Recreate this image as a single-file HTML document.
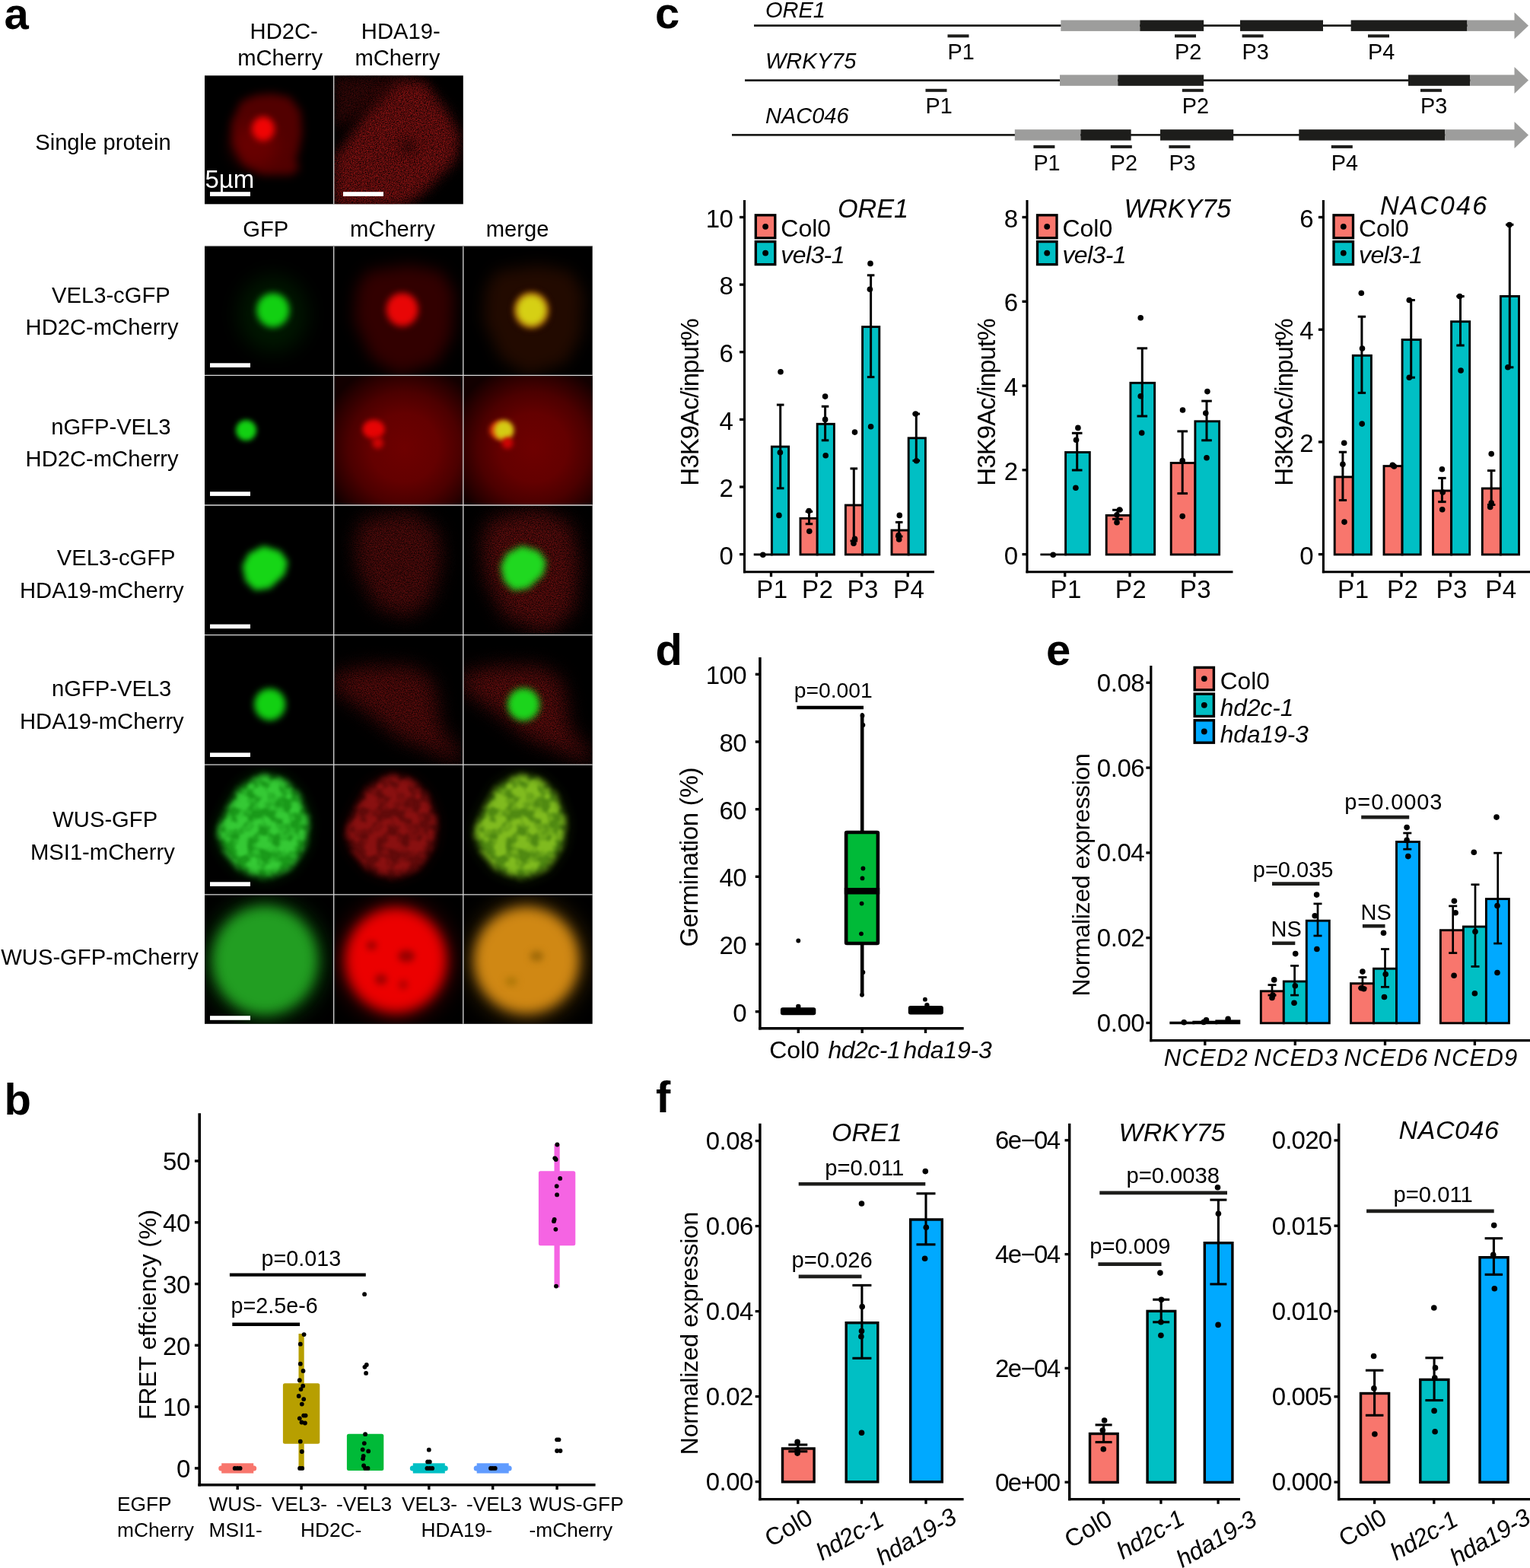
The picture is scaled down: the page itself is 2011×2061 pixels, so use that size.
<!DOCTYPE html>
<html><head><meta charset="utf-8"><title>Figure</title>
<style>
html,body{margin:0;padding:0;background:#fff;}
body{width:2011px;height:2061px;overflow:hidden;}
svg{display:block;font-family:'Liberation Sans', sans-serif;}
</style></head><body>
<svg width="2011" height="2061" viewBox="0 0 2011 2061">
<defs>
<filter id="b2" color-interpolation-filters="sRGB" x="-60%" y="-60%" width="220%" height="220%"><feGaussianBlur stdDeviation="2"/></filter>
<filter id="b3" color-interpolation-filters="sRGB" x="-60%" y="-60%" width="220%" height="220%"><feGaussianBlur stdDeviation="3"/></filter>
<filter id="b4" color-interpolation-filters="sRGB" x="-60%" y="-60%" width="220%" height="220%"><feGaussianBlur stdDeviation="4"/></filter>
<filter id="b5" color-interpolation-filters="sRGB" x="-60%" y="-60%" width="220%" height="220%"><feGaussianBlur stdDeviation="5"/></filter>
<filter id="b6" color-interpolation-filters="sRGB" x="-60%" y="-60%" width="220%" height="220%"><feGaussianBlur stdDeviation="6"/></filter>
<filter id="b8" color-interpolation-filters="sRGB" x="-60%" y="-60%" width="220%" height="220%"><feGaussianBlur stdDeviation="8"/></filter>
<filter id="b10" color-interpolation-filters="sRGB" x="-60%" y="-60%" width="220%" height="220%"><feGaussianBlur stdDeviation="10"/></filter>
<filter id="b14" color-interpolation-filters="sRGB" x="-60%" y="-60%" width="220%" height="220%"><feGaussianBlur stdDeviation="14"/></filter>
<filter id="b20" color-interpolation-filters="sRGB" x="-60%" y="-60%" width="220%" height="220%"><feGaussianBlur stdDeviation="20"/></filter>
<filter id="nz" color-interpolation-filters="sRGB" x="-40%" y="-40%" width="180%" height="180%"><feGaussianBlur in="SourceGraphic" stdDeviation="8" result="b"/><feTurbulence type="fractalNoise" baseFrequency="0.7" numOctaves="2" seed="4" result="t"/><feColorMatrix in="t" type="matrix" values="0 0 0 0 1 0 0 0 0 1 0 0 0 0 1 1.7 0 0 0 -0.25" result="n"/><feComposite in="b" in2="n" operator="in"/></filter>
<filter id="nz3" color-interpolation-filters="sRGB" x="-40%" y="-40%" width="180%" height="180%"><feGaussianBlur in="SourceGraphic" stdDeviation="12" result="b"/><feTurbulence type="fractalNoise" baseFrequency="0.7" numOctaves="2" seed="7" result="t"/><feColorMatrix in="t" type="matrix" values="0 0 0 0 1 0 0 0 0 1 0 0 0 0 1 1.6 0 0 0 -0.2" result="n"/><feComposite in="b" in2="n" operator="in"/></filter>
<filter id="mot" color-interpolation-filters="sRGB" x="-40%" y="-40%" width="180%" height="180%"><feGaussianBlur in="SourceGraphic" stdDeviation="5" result="b"/><feTurbulence type="fractalNoise" baseFrequency="0.07" numOctaves="2" seed="9" result="t"/><feColorMatrix in="t" type="matrix" values="0 0 0 0 1 0 0 0 0 1 0 0 0 0 1 3.2 0 0 0 -1.05" result="n"/><feComposite in="b" in2="n" operator="in" result="c"/><feGaussianBlur in="c" stdDeviation="1.6"/></filter>
<filter id="mot2" color-interpolation-filters="sRGB" x="-40%" y="-40%" width="180%" height="180%"><feGaussianBlur in="SourceGraphic" stdDeviation="5" result="b"/><feTurbulence type="fractalNoise" baseFrequency="0.085" numOctaves="2" seed="9" result="t"/><feColorMatrix in="t" type="matrix" values="0 0 0 0 1 0 0 0 0 1 0 0 0 0 1 3.0 0 0 0 -0.95" result="n"/><feComposite in="b" in2="n" operator="in"/></filter>
<clipPath id="c1"><rect x="269" y="99.3" width="169.7" height="169"/></clipPath>
<clipPath id="c2"><rect x="438.7" y="99.3" width="170.1" height="169"/></clipPath>
<clipPath id="c3"><rect x="269" y="323.4" width="169.7" height="170"/></clipPath>
<clipPath id="c4"><rect x="438.7" y="323.4" width="170.1" height="170"/></clipPath>
<clipPath id="c5"><rect x="608.8" y="323.4" width="169.9" height="170"/></clipPath>
<radialGradient id="g1" gradientUnits="userSpaceOnUse" cx="92.6" cy="94.9" r="112"><stop offset="0" stop-color="#6e0000"/><stop offset="0.4" stop-color="#640000"/><stop offset="0.65" stop-color="#4c0000"/><stop offset="0.85" stop-color="#2c0000"/><stop offset="1" stop-color="#120000"/></radialGradient>
<clipPath id="c6"><rect x="269" y="493.4" width="169.7" height="170.6"/></clipPath>
<clipPath id="c7"><rect x="438.7" y="493.4" width="170.1" height="170.6"/></clipPath>
<radialGradient id="g2" gradientUnits="userSpaceOnUse" cx="92.3" cy="94.9" r="112"><stop offset="0" stop-color="#6e0000"/><stop offset="0.4" stop-color="#640000"/><stop offset="0.65" stop-color="#4c0000"/><stop offset="0.85" stop-color="#2c0000"/><stop offset="1" stop-color="#120000"/></radialGradient>
<clipPath id="c8"><rect x="608.8" y="493.4" width="169.9" height="170.6"/></clipPath>
<clipPath id="c9"><rect x="269" y="664" width="169.7" height="170.6"/></clipPath>
<clipPath id="c10"><rect x="438.7" y="664" width="170.1" height="170.6"/></clipPath>
<clipPath id="c11"><rect x="608.8" y="664" width="169.9" height="170.6"/></clipPath>
<clipPath id="c12"><rect x="269" y="834.6" width="169.7" height="170.6"/></clipPath>
<clipPath id="c13"><rect x="438.7" y="834.6" width="170.1" height="170.6"/></clipPath>
<clipPath id="c14"><rect x="608.8" y="834.6" width="169.9" height="170.6"/></clipPath>
<clipPath id="c15"><rect x="269" y="1005.2" width="169.7" height="170.6"/></clipPath>
<clipPath id="c16"><rect x="438.7" y="1005.2" width="170.1" height="170.6"/></clipPath>
<clipPath id="c17"><rect x="608.8" y="1005.2" width="169.9" height="170.6"/></clipPath>
<clipPath id="c18"><rect x="269" y="1175.8" width="169.7" height="170"/></clipPath>
<clipPath id="c19"><rect x="438.7" y="1175.8" width="170.1" height="170"/></clipPath>
<clipPath id="c20"><rect x="608.8" y="1175.8" width="169.9" height="170"/></clipPath>
</defs>
<rect width="2011" height="2061" fill="#fff"/>
<text x="5.5" y="37.6" font-size="58" font-weight="bold">a</text>
<text x="328.6" y="51.3" font-size="29.2">HD2C-</text>
<text x="312.2" y="86.1" font-size="29.2">mCherry</text>
<text x="474.8" y="51.3" font-size="29.2">HDA19-</text>
<text x="466.4" y="86.1" font-size="29.2">mCherry</text>
<text x="46.2" y="196.6" font-size="29.2">Single protein</text>
<text x="319.3" y="311" font-size="29.2">GFP</text>
<text x="460" y="311" font-size="29.2">mCherry</text>
<text x="638.7" y="311" font-size="29.2">merge</text>
<text x="68" y="398" font-size="29.2">VEL3-cGFP</text>
<text x="33.6" y="440.3" font-size="29.2">HD2C-mCherry</text>
<text x="67.2" y="570.6" font-size="29.2">nGFP-VEL3</text>
<text x="33.6" y="613.4" font-size="29.2">HD2C-mCherry</text>
<text x="74.8" y="743.3" font-size="29.2">VEL3-cGFP</text>
<text x="26" y="785.7" font-size="29.2">HDA19-mCherry</text>
<text x="68" y="914.7" font-size="29.2">nGFP-VEL3</text>
<text x="26" y="958" font-size="29.2">HDA19-mCherry</text>
<text x="69.3" y="1087" font-size="29.2">WUS-GFP</text>
<text x="40" y="1130.3" font-size="29.2">MSI1-mCherry</text>
<text x="1.3" y="1267.6" font-size="29.2">WUS-GFP-mCherry</text>
<rect x="269" y="99.3" width="339.8" height="169" fill="#000"/>
<rect x="269" y="323.4" width="509.7" height="1022.4" fill="#000"/>
<g clip-path="url(#c1)"><g transform="translate(269 99.3)"><polygon points="47.7,34.2 66.6,25.7 89.3,23.8 112,28.5 126.2,47.4 128.1,75.8 123.4,100.4 119.6,109.8 124.3,123.1 113.9,130.6 76.1,130.6 51.5,117.4 36.4,89 34.5,62.5" fill="#520000" filter="url(#b6)"/><ellipse cx="66" cy="92" rx="30" ry="28" fill="#7a0000" filter="url(#b10)" opacity="0.55"/><ellipse cx="77" cy="70" rx="15" ry="16" fill="#f00404" filter="url(#b4)"/></g></g>
<g clip-path="url(#c2)"><g transform="translate(438.7 99.3)"><polygon points="1.3,0.7 112.9,0.7 135.2,27.5 81.7,18.6 1.3,72.1" fill="#3c0808" filter="url(#nz)"/><polygon points="0,110 40,52 85,10 120,12 148,45 166,80 160,112 116,156 89,172 0,172" fill="#8c1212" filter="url(#nz)"/><ellipse cx="98" cy="94" rx="12" ry="11" fill="#000" filter="url(#b6)" opacity="0.35"/></g></g>
<g clip-path="url(#c3)"><g transform="translate(269 323.4)"><ellipse cx="89.8" cy="89.3" rx="45" ry="50" fill="#002800" filter="url(#b14)" opacity="0.6"/><ellipse cx="89.8" cy="84.3" rx="21.5" ry="22.5" fill="#12d012" filter="url(#b4)"/></g></g>
<g clip-path="url(#c4)"><g transform="translate(438.7 323.4)"><polygon points="44,33.4 99.7,25 141.5,33.4 158.2,61.2 155.4,116.9 135.9,153.1 85.8,169.8 49.6,147.5 27.3,97.4 30.1,55.6" fill="#320000" filter="url(#b10)"/><ellipse cx="90" cy="83.5" rx="21" ry="22" fill="#e80606" filter="url(#b4)"/></g></g>
<g clip-path="url(#c5)"><g transform="translate(608.8 323.4)"><polygon points="43.7,33.4 99.4,25 141.2,33.4 157.9,61.2 155.1,116.9 135.6,153.1 85.5,169.8 49.3,147.5 27,97.4 29.8,55.6" fill="#220a00" filter="url(#b10)"/><ellipse cx="89.7" cy="84.3" rx="23" ry="24" fill="#8c3c04" filter="url(#b4)"/><ellipse cx="89.7" cy="84.3" rx="20" ry="21" fill="#d6d014" filter="url(#b4)"/></g></g>
<g clip-path="url(#c6)"><g transform="translate(269 493.4)"><ellipse cx="54.5" cy="72.2" rx="13.5" ry="13.5" fill="#12d012" filter="url(#b3)"/></g></g>
<g clip-path="url(#c7)"><g transform="translate(438.7 493.4)"><rect x="0" y="0" width="171" height="171" fill="url(#g1)"/><ellipse cx="52.4" cy="70.8" rx="14.5" ry="12.5" fill="#e60404" filter="url(#b3)"/><ellipse cx="57.9" cy="88.9" rx="7.5" ry="7.5" fill="#cc0404" filter="url(#b3)"/></g></g>
<g clip-path="url(#c8)"><g transform="translate(608.8 493.4)"><rect x="0" y="0" width="171" height="171" fill="url(#g2)"/><ellipse cx="48.5" cy="72.2" rx="14" ry="12" fill="#d83006" filter="url(#b3)"/><ellipse cx="53.5" cy="72.2" rx="13" ry="13" fill="#d4cc14" filter="url(#b3)"/><ellipse cx="58.2" cy="88.9" rx="7.5" ry="7.5" fill="#d00404" filter="url(#b3)"/></g></g>
<g clip-path="url(#c9)"><g transform="translate(269 664)"><polygon points="77.3,53.6 99.6,60.6 109.3,74.5 105.1,91.2 85.7,109.3 66.2,112.1 53.6,99.6 49.5,80.1 57.8,63.4" fill="#16d616" filter="url(#b4)"/></g></g>
<g clip-path="url(#c10)"><g transform="translate(438.7 664)"><polygon points="38.4,18.8 99.7,7.7 135.9,32.8 141.5,74.5 127.5,124.6 99.7,146.9 57.9,135.8 32.9,88.4 27.3,46.7" fill="#5c0c0c" filter="url(#nz3)"/></g></g>
<g clip-path="url(#c11)"><g transform="translate(608.8 664)"><polygon points="35.4,18.8 96.6,4.9 141.2,24.4 152.3,74.5 146.7,135.8 110.6,169.2 54.9,146.9 29.8,96.8 24.3,46.7" fill="#6a0e0e" filter="url(#nz3)"/><polygon points="77.1,53.6 99.4,60.6 109.2,74.5 105,91.2 85.5,109.3 66,112.1 53.5,99.6 49.3,80.1 57.7,63.4" fill="#20d820" filter="url(#b4)"/></g></g>
<g clip-path="url(#c12)"><g transform="translate(269 834.6)"><ellipse cx="85.7" cy="91.3" rx="20.5" ry="21" fill="#12d012" filter="url(#b4)"/></g></g>
<g clip-path="url(#c13)"><g transform="translate(438.7 834.6)"><polygon points="-0.5,51.5 44,41.7 99.7,41.7 127.5,57 135.9,84.9 138.7,121.1 169.3,160 169.3,169.8 127.5,151.7 85.8,135 44,101.6 -0.5,71" fill="#640c0c" filter="url(#nz3)"/></g></g>
<g clip-path="url(#c14)"><g transform="translate(608.8 834.6)"><polygon points="-1.4,51.5 43.2,41.7 98.9,41.7 126.7,57 135.1,84.9 137.8,121.1 168.5,160 168.5,169.8 126.7,151.7 84.9,135 43.2,101.6 -1.4,71" fill="#6c0e0e" filter="url(#nz3)"/><ellipse cx="79.4" cy="91.3" rx="21" ry="21.5" fill="#1cd41c" filter="url(#b4)"/></g></g>
<g clip-path="url(#c15)"><g transform="translate(269 1005.2)"><polygon points="74.5,13.5 102.4,19 123.2,39.9 135.8,73.3 131.6,106.7 112.1,136 80.1,148.5 46.7,137.4 25.8,112.3 17.4,87.2 30,59.4 46.7,30.2" fill="#0a5a0a" filter="url(#b10)" opacity="0.8"/><polygon points="74.5,13.5 102.4,19 123.2,39.9 135.8,73.3 131.6,106.7 112.1,136 80.1,148.5 46.7,137.4 25.8,112.3 17.4,87.2 30,59.4 46.7,30.2" fill="#1a9a1a" filter="url(#b5)"/><polygon points="74.5,13.5 102.4,19 123.2,39.9 135.8,73.3 131.6,106.7 112.1,136 80.1,148.5 46.7,137.4 25.8,112.3 17.4,87.2 30,59.4 46.7,30.2" fill="#50f850" filter="url(#mot)" opacity="0.5"/></g></g>
<g clip-path="url(#c16)"><g transform="translate(438.7 1005.2)"><polygon points="73.2,13.5 101.1,19 122,39.9 134.5,73.3 130.3,106.7 110.8,136 78.8,148.5 45.4,137.4 24.5,112.3 16.2,87.2 28.7,59.4 45.4,30.2" fill="#3a0404" filter="url(#b10)" opacity="0.8"/><polygon points="73.2,13.5 101.1,19 122,39.9 134.5,73.3 130.3,106.7 110.8,136 78.8,148.5 45.4,137.4 24.5,112.3 16.2,87.2 28.7,59.4 45.4,30.2" fill="#620a0a" filter="url(#b5)"/><polygon points="73.2,13.5 101.1,19 122,39.9 134.5,73.3 130.3,106.7 110.8,136 78.8,148.5 45.4,137.4 24.5,112.3 16.2,87.2 28.7,59.4 45.4,30.2" fill="#b01616" filter="url(#mot)" opacity="0.5"/></g></g>
<g clip-path="url(#c17)"><g transform="translate(608.8 1005.2)"><polygon points="72.4,13.5 100.3,19 121.1,39.9 133.7,73.3 129.5,106.7 110,136 78,148.5 44.6,137.4 23.7,112.3 15.3,87.2 27.9,59.4 44.6,30.2" fill="#2a4a06" filter="url(#b10)" opacity="0.8"/><polygon points="72.4,13.5 100.3,19 121.1,39.9 133.7,73.3 129.5,106.7 110,136 78,148.5 44.6,137.4 23.7,112.3 15.3,87.2 27.9,59.4 44.6,30.2" fill="#508a12" filter="url(#b5)"/><polygon points="72.4,13.5 100.3,19 121.1,39.9 133.7,73.3 129.5,106.7 110,136 78,148.5 44.6,137.4 23.7,112.3 15.3,87.2 27.9,59.4 44.6,30.2" fill="#b0ec2c" filter="url(#mot)" opacity="0.5"/></g></g>
<g clip-path="url(#c18)"><g transform="translate(269 1175.8)"><ellipse cx="80.1" cy="86.5" rx="76" ry="78" fill="#0a4a0a" filter="url(#b14)"/><ellipse cx="79.1" cy="86.5" rx="67.5" ry="69.5" fill="#229e22" filter="url(#b8)"/></g></g>
<g clip-path="url(#c19)"><g transform="translate(438.7 1175.8)"><ellipse cx="81.6" cy="86.5" rx="74" ry="76" fill="#500000" filter="url(#b14)"/><ellipse cx="81.6" cy="86.5" rx="65.5" ry="68" fill="#ec0000" filter="url(#b8)"/><ellipse cx="49.6" cy="67" rx="7" ry="6" fill="#a00000" filter="url(#b4)"/><ellipse cx="95.5" cy="80.9" rx="11" ry="8" fill="#980000" filter="url(#b4)"/><ellipse cx="62.1" cy="111.5" rx="8" ry="7" fill="#a00000" filter="url(#b4)"/><ellipse cx="91.3" cy="118.5" rx="6" ry="6" fill="#b00000" filter="url(#b4)"/></g></g>
<g clip-path="url(#c20)"><g transform="translate(608.8 1175.8)"><ellipse cx="84.1" cy="86.5" rx="76" ry="78" fill="#4a3004" filter="url(#b14)"/><ellipse cx="83.1" cy="86.5" rx="68" ry="69" fill="#d08814" filter="url(#b8)"/><ellipse cx="96.6" cy="80.9" rx="9" ry="7" fill="#a06a08" filter="url(#b4)"/><ellipse cx="63.2" cy="114.3" rx="8" ry="6" fill="#b07808" filter="url(#b4)"/></g></g>
<line x1="438.7" y1="99.3" x2="438.7" y2="268.3" stroke="#d9d9d9" stroke-width="1.3"/>
<line x1="438.7" y1="323.4" x2="438.7" y2="1345.8" stroke="#d9d9d9" stroke-width="1.3"/>
<line x1="608.8" y1="323.4" x2="608.8" y2="1345.8" stroke="#d9d9d9" stroke-width="1.3"/>
<line x1="269" y1="493.4" x2="778.7" y2="493.4" stroke="#d9d9d9" stroke-width="1.3"/>
<line x1="269" y1="664" x2="778.7" y2="664" stroke="#d9d9d9" stroke-width="1.3"/>
<line x1="269" y1="834.6" x2="778.7" y2="834.6" stroke="#d9d9d9" stroke-width="1.3"/>
<line x1="269" y1="1005.2" x2="778.7" y2="1005.2" stroke="#d9d9d9" stroke-width="1.3"/>
<line x1="269" y1="1175.8" x2="778.7" y2="1175.8" stroke="#d9d9d9" stroke-width="1.3"/>
<line x1="269" y1="323.4" x2="778.7" y2="323.4" stroke="#888" stroke-width="1"/>
<rect x="276" y="252.2" width="53" height="5.7" fill="#fff"/>
<rect x="451" y="252.2" width="53" height="5.7" fill="#fff"/>
<text x="269.4" y="247" font-size="33" fill="#fff">5µm</text>
<rect x="276" y="477.3" width="53" height="5.6" fill="#fff"/>
<rect x="276" y="646.3" width="53" height="5.6" fill="#fff"/>
<rect x="276" y="820.6" width="53" height="5.6" fill="#fff"/>
<rect x="276" y="989.4" width="53" height="5.6" fill="#fff"/>
<rect x="276" y="1159.3" width="53" height="5.6" fill="#fff"/>
<rect x="276" y="1335.2" width="53" height="5.6" fill="#fff"/>
<text x="861" y="37.3" font-size="58" font-weight="bold">c</text>
<line x1="991" y1="33.7" x2="1995" y2="33.7" stroke="#1d1d1b" stroke-width="2.7"/>
<rect x="1394.3" y="26.5" width="104" height="14.4" fill="#9d9d9c"/>
<rect x="1498.3" y="26.5" width="83.8" height="14.4" fill="#1d1d1b"/>
<rect x="1630" y="26.5" width="109" height="14.4" fill="#1d1d1b"/>
<rect x="1775.6" y="26.5" width="152.9" height="14.4" fill="#1d1d1b"/>
<rect x="1928.5" y="26.5" width="62.5" height="14.4" fill="#9d9d9c"/>
<polygon points="1990.5,16.2 2009,33.7 1990.5,51.2" fill="#9d9d9c"/>
<text x="1006" y="22.7" font-size="29" font-style="italic">ORE1</text>
<rect x="1245.5" y="45.3" width="28" height="4" fill="#1d1d1b"/>
<text x="1245.5" y="78" font-size="28.8">P1</text>
<rect x="1544" y="45.3" width="28" height="4" fill="#1d1d1b"/>
<text x="1544" y="78" font-size="28.8">P2</text>
<rect x="1632.6" y="45.3" width="28" height="4" fill="#1d1d1b"/>
<text x="1632.6" y="78" font-size="28.8">P3</text>
<rect x="1798" y="45.3" width="28" height="4" fill="#1d1d1b"/>
<text x="1798" y="78" font-size="28.8">P4</text>
<line x1="979" y1="105.6" x2="1995" y2="105.6" stroke="#1d1d1b" stroke-width="2.7"/>
<rect x="1393" y="98.4" width="76.3" height="14.4" fill="#9d9d9c"/>
<rect x="1469.3" y="98.4" width="112.8" height="14.4" fill="#1d1d1b"/>
<rect x="1851" y="98.4" width="81.3" height="14.4" fill="#1d1d1b"/>
<rect x="1932.3" y="98.4" width="58.7" height="14.4" fill="#9d9d9c"/>
<polygon points="1990.5,88.1 2009,105.6 1990.5,123.1" fill="#9d9d9c"/>
<text x="1006" y="89.8" font-size="29" font-style="italic">WRKY75</text>
<rect x="1216.5" y="116.8" width="28" height="4" fill="#1d1d1b"/>
<text x="1216.5" y="149.4" font-size="28.8">P1</text>
<rect x="1553.8" y="116.8" width="28" height="4" fill="#1d1d1b"/>
<text x="1553.8" y="149.4" font-size="28.8">P2</text>
<rect x="1867" y="116.8" width="28" height="4" fill="#1d1d1b"/>
<text x="1867" y="149.4" font-size="28.8">P3</text>
<line x1="962" y1="177.4" x2="1995" y2="177.4" stroke="#1d1d1b" stroke-width="2.7"/>
<rect x="1333.8" y="170.2" width="86.6" height="14.4" fill="#9d9d9c"/>
<rect x="1420.4" y="170.2" width="66.2" height="14.4" fill="#1d1d1b"/>
<rect x="1525" y="170.2" width="96.2" height="14.4" fill="#1d1d1b"/>
<rect x="1707.3" y="170.2" width="191.9" height="14.4" fill="#1d1d1b"/>
<rect x="1899.2" y="170.2" width="91.8" height="14.4" fill="#9d9d9c"/>
<polygon points="1990.5,159.9 2009,177.4 1990.5,194.9" fill="#9d9d9c"/>
<text x="1006" y="162.3" font-size="29" font-style="italic">NAC046</text>
<rect x="1358.4" y="190.9" width="28" height="4" fill="#1d1d1b"/>
<text x="1358.4" y="223.8" font-size="28.8">P1</text>
<rect x="1459.8" y="190.9" width="28" height="4" fill="#1d1d1b"/>
<text x="1459.8" y="223.8" font-size="28.8">P2</text>
<rect x="1536.4" y="190.9" width="28" height="4" fill="#1d1d1b"/>
<text x="1536.4" y="223.8" font-size="28.8">P3</text>
<rect x="1749.8" y="190.9" width="28" height="4" fill="#1d1d1b"/>
<text x="1749.8" y="223.8" font-size="28.8">P4</text>
<line x1="990.7" y1="728.9" x2="1015.8" y2="728.9" stroke="#000" stroke-width="2.9"/>
<rect x="1014.4" y="587.1" width="22.2" height="141.8" fill="#00BFC4" stroke="#000" stroke-width="2.9"/>
<rect x="1052" y="681.3" width="22.2" height="47.6" fill="#F8766D" stroke="#000" stroke-width="2.9"/>
<rect x="1074.2" y="557.3" width="22.2" height="171.6" fill="#00BFC4" stroke="#000" stroke-width="2.9"/>
<rect x="1111.4" y="664" width="22.2" height="64.9" fill="#F8766D" stroke="#000" stroke-width="2.9"/>
<rect x="1133.6" y="429.6" width="22.2" height="299.3" fill="#00BFC4" stroke="#000" stroke-width="2.9"/>
<rect x="1172" y="697" width="22.2" height="31.9" fill="#F8766D" stroke="#000" stroke-width="2.9"/>
<rect x="1194.2" y="575.8" width="22.2" height="153.1" fill="#00BFC4" stroke="#000" stroke-width="2.9"/>
<line x1="1025.7" y1="532.1" x2="1025.7" y2="641.8" stroke="#000" stroke-width="3"/>
<line x1="1020.9" y1="532.1" x2="1030.5" y2="532.1" stroke="#000" stroke-width="3"/>
<line x1="1020.9" y1="641.8" x2="1030.5" y2="641.8" stroke="#000" stroke-width="3"/>
<line x1="1063.5" y1="672.4" x2="1063.5" y2="688.7" stroke="#000" stroke-width="3"/>
<line x1="1058.7" y1="672.4" x2="1068.2" y2="672.4" stroke="#000" stroke-width="3"/>
<line x1="1058.7" y1="688.7" x2="1068.2" y2="688.7" stroke="#000" stroke-width="3"/>
<line x1="1084.6" y1="534.2" x2="1084.6" y2="578.8" stroke="#000" stroke-width="3"/>
<line x1="1079.8" y1="534.2" x2="1089.3" y2="534.2" stroke="#000" stroke-width="3"/>
<line x1="1079.8" y1="578.8" x2="1089.3" y2="578.8" stroke="#000" stroke-width="3"/>
<line x1="1122.3" y1="615.9" x2="1122.3" y2="711" stroke="#000" stroke-width="3"/>
<line x1="1117.5" y1="615.9" x2="1127.1" y2="615.9" stroke="#000" stroke-width="3"/>
<line x1="1117.5" y1="711" x2="1127.1" y2="711" stroke="#000" stroke-width="3"/>
<line x1="1144.6" y1="361.8" x2="1144.6" y2="495.6" stroke="#000" stroke-width="3"/>
<line x1="1139.8" y1="361.8" x2="1149.4" y2="361.8" stroke="#000" stroke-width="3"/>
<line x1="1139.8" y1="495.6" x2="1149.4" y2="495.6" stroke="#000" stroke-width="3"/>
<line x1="1181.7" y1="686.4" x2="1181.7" y2="705.1" stroke="#000" stroke-width="3"/>
<line x1="1177" y1="686.4" x2="1186.5" y2="686.4" stroke="#000" stroke-width="3"/>
<line x1="1177" y1="705.1" x2="1186.5" y2="705.1" stroke="#000" stroke-width="3"/>
<line x1="1204.3" y1="544" x2="1204.3" y2="605.5" stroke="#000" stroke-width="3"/>
<line x1="1199.5" y1="544" x2="1209.1" y2="544" stroke="#000" stroke-width="3"/>
<line x1="1199.5" y1="605.5" x2="1209.1" y2="605.5" stroke="#000" stroke-width="3"/>
<circle cx="1002.8" cy="729.2" r="3.8" fill="#000"/>
<circle cx="1026" cy="488.7" r="3.8" fill="#000"/>
<circle cx="1025.4" cy="594.8" r="3.8" fill="#000"/>
<circle cx="1023.9" cy="677.4" r="3.8" fill="#000"/>
<circle cx="1063.2" cy="671.5" r="3.8" fill="#000"/>
<circle cx="1063.8" cy="698.2" r="3.8" fill="#000"/>
<circle cx="1084.6" cy="521.1" r="3.8" fill="#000"/>
<circle cx="1084.6" cy="551.4" r="3.8" fill="#000"/>
<circle cx="1085.2" cy="598.7" r="3.8" fill="#000"/>
<circle cx="1123.5" cy="568.1" r="3.8" fill="#000"/>
<circle cx="1123.5" cy="708.4" r="3.8" fill="#000"/>
<circle cx="1122" cy="714.3" r="3.8" fill="#000"/>
<circle cx="1144" cy="346.4" r="3.8" fill="#000"/>
<circle cx="1143.4" cy="380.3" r="3.8" fill="#000"/>
<circle cx="1144.6" cy="560.7" r="3.8" fill="#000"/>
<circle cx="1182.3" cy="677.4" r="3.8" fill="#000"/>
<circle cx="1181.1" cy="703.6" r="3.8" fill="#000"/>
<circle cx="1181.7" cy="708.9" r="3.8" fill="#000"/>
<circle cx="1203.4" cy="544" r="3.8" fill="#000"/>
<circle cx="1204.6" cy="605.8" r="3.8" fill="#000"/>
<line x1="978.5" y1="263" x2="978.5" y2="753.2" stroke="#000" stroke-width="3.1"/>
<line x1="977" y1="751.7" x2="1228" y2="751.7" stroke="#000" stroke-width="3.1"/>
<line x1="972" y1="728.6" x2="978.5" y2="728.6" stroke="#000" stroke-width="3.3"/>
<text x="963.4" y="741.7" font-size="33" text-anchor="end" letter-spacing="-0.5">0</text>
<line x1="972" y1="640" x2="978.5" y2="640" stroke="#000" stroke-width="3.3"/>
<text x="963.4" y="653.1" font-size="33" text-anchor="end" letter-spacing="-0.5">2</text>
<line x1="972" y1="551.4" x2="978.5" y2="551.4" stroke="#000" stroke-width="3.3"/>
<text x="963.4" y="564.5" font-size="33" text-anchor="end" letter-spacing="-0.5">4</text>
<line x1="972" y1="462.7" x2="978.5" y2="462.7" stroke="#000" stroke-width="3.3"/>
<text x="963.4" y="475.8" font-size="33" text-anchor="end" letter-spacing="-0.5">6</text>
<line x1="972" y1="374.1" x2="978.5" y2="374.1" stroke="#000" stroke-width="3.3"/>
<text x="963.4" y="387.2" font-size="33" text-anchor="end" letter-spacing="-0.5">8</text>
<line x1="972" y1="285.5" x2="978.5" y2="285.5" stroke="#000" stroke-width="3.3"/>
<text x="963.4" y="298.6" font-size="33" text-anchor="end" letter-spacing="-0.5">10</text>
<line x1="1013.5" y1="751.7" x2="1013.5" y2="758.2" stroke="#000" stroke-width="3.3"/>
<line x1="1073.3" y1="751.7" x2="1073.3" y2="758.2" stroke="#000" stroke-width="3.3"/>
<line x1="1132.7" y1="751.7" x2="1132.7" y2="758.2" stroke="#000" stroke-width="3.3"/>
<line x1="1193.3" y1="751.7" x2="1193.3" y2="758.2" stroke="#000" stroke-width="3.3"/>
<text x="1015" y="786.3" font-size="33" text-anchor="middle" letter-spacing="0.6">P1</text>
<text x="1074.8" y="786.3" font-size="33" text-anchor="middle" letter-spacing="0.6">P2</text>
<text x="1134.2" y="786.3" font-size="33" text-anchor="middle" letter-spacing="0.6">P3</text>
<text x="1194.8" y="786.3" font-size="33" text-anchor="middle" letter-spacing="0.6">P4</text>
<text x="1101" y="286" font-size="34.2" font-style="italic">ORE1</text>
<rect x="993.3" y="282.8" width="25.5" height="30" fill="#F8766D" stroke="#000" stroke-width="3.3"/>
<circle cx="1006.1" cy="297.8" r="3.9" fill="#000"/>
<text x="1026.3" y="310.8" font-size="32">Col0</text>
<rect x="993.3" y="317.6" width="25.5" height="30" fill="#00BFC4" stroke="#000" stroke-width="3.3"/>
<circle cx="1006.1" cy="332.6" r="3.9" fill="#000"/>
<text x="1026.3" y="345.7" font-size="32" font-style="italic" letter-spacing="-0.6">vel3-1</text>
<text font-size="33" text-anchor="middle" letter-spacing="-0.9" transform="translate(918 529) rotate(-90)">H3K9Ac/input%</text>
<line x1="1367.4" y1="728.9" x2="1402" y2="728.9" stroke="#000" stroke-width="2.9"/>
<rect x="1400.6" y="594.5" width="31.7" height="134.4" fill="#00BFC4" stroke="#000" stroke-width="2.9"/>
<rect x="1454.2" y="677.4" width="31.7" height="51.5" fill="#F8766D" stroke="#000" stroke-width="2.9"/>
<rect x="1485.9" y="503.3" width="31.7" height="225.6" fill="#00BFC4" stroke="#000" stroke-width="2.9"/>
<rect x="1539.2" y="608.5" width="31.7" height="120.4" fill="#F8766D" stroke="#000" stroke-width="2.9"/>
<rect x="1570.9" y="553.8" width="31.7" height="175.1" fill="#00BFC4" stroke="#000" stroke-width="2.9"/>
<line x1="1415.7" y1="569.3" x2="1415.7" y2="618" stroke="#000" stroke-width="3"/>
<line x1="1408.9" y1="569.3" x2="1422.5" y2="569.3" stroke="#000" stroke-width="3"/>
<line x1="1408.9" y1="618" x2="1422.5" y2="618" stroke="#000" stroke-width="3"/>
<line x1="1468.9" y1="670.3" x2="1468.9" y2="682.2" stroke="#000" stroke-width="3"/>
<line x1="1462.1" y1="670.3" x2="1475.7" y2="670.3" stroke="#000" stroke-width="3"/>
<line x1="1462.1" y1="682.2" x2="1475.7" y2="682.2" stroke="#000" stroke-width="3"/>
<line x1="1501.3" y1="457.8" x2="1501.3" y2="547" stroke="#000" stroke-width="3"/>
<line x1="1494.5" y1="457.8" x2="1508.1" y2="457.8" stroke="#000" stroke-width="3"/>
<line x1="1494.5" y1="547" x2="1508.1" y2="547" stroke="#000" stroke-width="3"/>
<line x1="1554.2" y1="566.9" x2="1554.2" y2="648.6" stroke="#000" stroke-width="3"/>
<line x1="1547.4" y1="566.9" x2="1561" y2="566.9" stroke="#000" stroke-width="3"/>
<line x1="1547.4" y1="648.6" x2="1561" y2="648.6" stroke="#000" stroke-width="3"/>
<line x1="1586" y1="527.1" x2="1586" y2="578.8" stroke="#000" stroke-width="3"/>
<line x1="1579.2" y1="527.1" x2="1592.8" y2="527.1" stroke="#000" stroke-width="3"/>
<line x1="1579.2" y1="578.8" x2="1592.8" y2="578.8" stroke="#000" stroke-width="3"/>
<circle cx="1384.2" cy="729.2" r="3.8" fill="#000"/>
<circle cx="1416.9" cy="562.4" r="3.8" fill="#000"/>
<circle cx="1414.5" cy="578.2" r="3.8" fill="#000"/>
<circle cx="1413.9" cy="641.2" r="3.8" fill="#000"/>
<circle cx="1471.6" cy="670" r="3.8" fill="#000"/>
<circle cx="1468" cy="676.8" r="3.8" fill="#000"/>
<circle cx="1468" cy="686.7" r="3.8" fill="#000"/>
<circle cx="1499.2" cy="417.7" r="3.8" fill="#000"/>
<circle cx="1499.2" cy="520.8" r="3.8" fill="#000"/>
<circle cx="1500.7" cy="569" r="3.8" fill="#000"/>
<circle cx="1554.5" cy="539" r="3.8" fill="#000"/>
<circle cx="1554.2" cy="605.5" r="3.8" fill="#000"/>
<circle cx="1554.2" cy="678.6" r="3.8" fill="#000"/>
<circle cx="1586.9" cy="514.6" r="3.8" fill="#000"/>
<circle cx="1584.8" cy="543.1" r="3.8" fill="#000"/>
<circle cx="1586" cy="601.7" r="3.8" fill="#000"/>
<line x1="1350" y1="263" x2="1350" y2="753.2" stroke="#000" stroke-width="3.1"/>
<line x1="1348.5" y1="751.7" x2="1620.5" y2="751.7" stroke="#000" stroke-width="3.1"/>
<line x1="1343.5" y1="728.6" x2="1350" y2="728.6" stroke="#000" stroke-width="3.3"/>
<text x="1337.5" y="741.7" font-size="33" text-anchor="end" letter-spacing="-0.5">0</text>
<line x1="1343.5" y1="617.8" x2="1350" y2="617.8" stroke="#000" stroke-width="3.3"/>
<text x="1337.5" y="630.9" font-size="33" text-anchor="end" letter-spacing="-0.5">2</text>
<line x1="1343.5" y1="507.1" x2="1350" y2="507.1" stroke="#000" stroke-width="3.3"/>
<text x="1337.5" y="520.1" font-size="33" text-anchor="end" letter-spacing="-0.5">4</text>
<line x1="1343.5" y1="396.3" x2="1350" y2="396.3" stroke="#000" stroke-width="3.3"/>
<text x="1337.5" y="409.4" font-size="33" text-anchor="end" letter-spacing="-0.5">6</text>
<line x1="1343.5" y1="285.5" x2="1350" y2="285.5" stroke="#000" stroke-width="3.3"/>
<text x="1337.5" y="298.6" font-size="33" text-anchor="end" letter-spacing="-0.5">8</text>
<line x1="1399.7" y1="751.7" x2="1399.7" y2="758.2" stroke="#000" stroke-width="3.3"/>
<line x1="1485" y1="751.7" x2="1485" y2="758.2" stroke="#000" stroke-width="3.3"/>
<line x1="1570" y1="751.7" x2="1570" y2="758.2" stroke="#000" stroke-width="3.3"/>
<text x="1401.2" y="786.3" font-size="33" text-anchor="middle" letter-spacing="0.6">P1</text>
<text x="1486.5" y="786.3" font-size="33" text-anchor="middle" letter-spacing="0.6">P2</text>
<text x="1571.5" y="786.3" font-size="33" text-anchor="middle" letter-spacing="0.6">P3</text>
<text x="1477.5" y="286" font-size="34.2" font-style="italic">WRKY75</text>
<rect x="1363.5" y="282.8" width="25.5" height="30" fill="#F8766D" stroke="#000" stroke-width="3.3"/>
<circle cx="1376.2" cy="297.8" r="3.9" fill="#000"/>
<text x="1396.4" y="310.8" font-size="32">Col0</text>
<rect x="1363.5" y="317.6" width="25.5" height="30" fill="#00BFC4" stroke="#000" stroke-width="3.3"/>
<circle cx="1376.2" cy="332.6" r="3.9" fill="#000"/>
<text x="1396.4" y="345.7" font-size="32" font-style="italic" letter-spacing="-0.6">vel3-1</text>
<text font-size="33" text-anchor="middle" letter-spacing="-0.9" transform="translate(1308 529) rotate(-90)">H3K9Ac/input%</text>
<rect x="1754.2" y="626.9" width="24.1" height="102" fill="#F8766D" stroke="#000" stroke-width="2.9"/>
<rect x="1778.3" y="467.3" width="24.1" height="261.6" fill="#00BFC4" stroke="#000" stroke-width="2.9"/>
<rect x="1819" y="612.6" width="24.1" height="116.3" fill="#F8766D" stroke="#000" stroke-width="2.9"/>
<rect x="1843.1" y="446.5" width="24.1" height="282.4" fill="#00BFC4" stroke="#000" stroke-width="2.9"/>
<rect x="1883.5" y="645" width="24.1" height="83.9" fill="#F8766D" stroke="#000" stroke-width="2.9"/>
<rect x="1907.6" y="422.7" width="24.1" height="306.2" fill="#00BFC4" stroke="#000" stroke-width="2.9"/>
<rect x="1948.3" y="642" width="24.1" height="86.9" fill="#F8766D" stroke="#000" stroke-width="2.9"/>
<rect x="1972.4" y="389.4" width="24.1" height="339.5" fill="#00BFC4" stroke="#000" stroke-width="2.9"/>
<line x1="1764.9" y1="594.2" x2="1764.9" y2="657.5" stroke="#000" stroke-width="3"/>
<line x1="1759.8" y1="594.2" x2="1770.1" y2="594.2" stroke="#000" stroke-width="3"/>
<line x1="1759.8" y1="657.5" x2="1770.1" y2="657.5" stroke="#000" stroke-width="3"/>
<line x1="1789.9" y1="416.2" x2="1789.9" y2="516.4" stroke="#000" stroke-width="3"/>
<line x1="1784.7" y1="416.2" x2="1795.1" y2="416.2" stroke="#000" stroke-width="3"/>
<line x1="1784.7" y1="516.4" x2="1795.1" y2="516.4" stroke="#000" stroke-width="3"/>
<line x1="1854.7" y1="394.5" x2="1854.7" y2="496.2" stroke="#000" stroke-width="3"/>
<line x1="1849.5" y1="394.5" x2="1859.9" y2="394.5" stroke="#000" stroke-width="3"/>
<line x1="1849.5" y1="496.2" x2="1859.9" y2="496.2" stroke="#000" stroke-width="3"/>
<line x1="1895.4" y1="628.4" x2="1895.4" y2="659.6" stroke="#000" stroke-width="3"/>
<line x1="1890.2" y1="628.4" x2="1900.6" y2="628.4" stroke="#000" stroke-width="3"/>
<line x1="1890.2" y1="659.6" x2="1900.6" y2="659.6" stroke="#000" stroke-width="3"/>
<line x1="1919.5" y1="389.5" x2="1919.5" y2="454" stroke="#000" stroke-width="3"/>
<line x1="1914.3" y1="389.5" x2="1924.7" y2="389.5" stroke="#000" stroke-width="3"/>
<line x1="1914.3" y1="454" x2="1924.7" y2="454" stroke="#000" stroke-width="3"/>
<line x1="1960.2" y1="618.6" x2="1960.2" y2="663.5" stroke="#000" stroke-width="3"/>
<line x1="1955" y1="618.6" x2="1965.4" y2="618.6" stroke="#000" stroke-width="3"/>
<line x1="1955" y1="663.5" x2="1965.4" y2="663.5" stroke="#000" stroke-width="3"/>
<line x1="1984.3" y1="295.3" x2="1984.3" y2="482.8" stroke="#000" stroke-width="3"/>
<line x1="1979.1" y1="295.3" x2="1989.4" y2="295.3" stroke="#000" stroke-width="3"/>
<line x1="1979.1" y1="482.8" x2="1989.4" y2="482.8" stroke="#000" stroke-width="3"/>
<circle cx="1766.7" cy="582.3" r="3.8" fill="#000"/>
<circle cx="1764.9" cy="610.3" r="3.8" fill="#000"/>
<circle cx="1767" cy="686.1" r="3.8" fill="#000"/>
<circle cx="1789.3" cy="385.3" r="3.8" fill="#000"/>
<circle cx="1790.5" cy="458.1" r="3.8" fill="#000"/>
<circle cx="1790.2" cy="557.1" r="3.8" fill="#000"/>
<circle cx="1830.3" cy="611.2" r="3.8" fill="#000"/>
<circle cx="1832.4" cy="613" r="3.8" fill="#000"/>
<circle cx="1852.3" cy="394.5" r="3.8" fill="#000"/>
<circle cx="1852.3" cy="496.2" r="3.8" fill="#000"/>
<circle cx="1895.4" cy="616.8" r="3.8" fill="#000"/>
<circle cx="1896.3" cy="647.1" r="3.8" fill="#000"/>
<circle cx="1895.7" cy="669.7" r="3.8" fill="#000"/>
<circle cx="1918.6" cy="389.5" r="3.8" fill="#000"/>
<circle cx="1920.1" cy="487" r="3.8" fill="#000"/>
<circle cx="1960.2" cy="596.6" r="3.8" fill="#000"/>
<circle cx="1960.2" cy="661.1" r="3.8" fill="#000"/>
<circle cx="1958.7" cy="666.4" r="3.8" fill="#000"/>
<circle cx="1984" cy="295.6" r="3.8" fill="#000"/>
<circle cx="1981.9" cy="482.8" r="3.8" fill="#000"/>
<line x1="1739.4" y1="263" x2="1739.4" y2="753.2" stroke="#000" stroke-width="3.1"/>
<line x1="1737.9" y1="751.7" x2="2011" y2="751.7" stroke="#000" stroke-width="3.1"/>
<line x1="1732.9" y1="728.6" x2="1739.4" y2="728.6" stroke="#000" stroke-width="3.3"/>
<text x="1726.2" y="741.7" font-size="33" text-anchor="end" letter-spacing="-0.5">0</text>
<line x1="1732.9" y1="580.9" x2="1739.4" y2="580.9" stroke="#000" stroke-width="3.3"/>
<text x="1726.2" y="594" font-size="33" text-anchor="end" letter-spacing="-0.5">2</text>
<line x1="1732.9" y1="433.2" x2="1739.4" y2="433.2" stroke="#000" stroke-width="3.3"/>
<text x="1726.2" y="446.3" font-size="33" text-anchor="end" letter-spacing="-0.5">4</text>
<line x1="1732.9" y1="285.5" x2="1739.4" y2="285.5" stroke="#000" stroke-width="3.3"/>
<text x="1726.2" y="298.6" font-size="33" text-anchor="end" letter-spacing="-0.5">6</text>
<line x1="1777.4" y1="751.7" x2="1777.4" y2="758.2" stroke="#000" stroke-width="3.3"/>
<line x1="1842.2" y1="751.7" x2="1842.2" y2="758.2" stroke="#000" stroke-width="3.3"/>
<line x1="1906.7" y1="751.7" x2="1906.7" y2="758.2" stroke="#000" stroke-width="3.3"/>
<line x1="1971.5" y1="751.7" x2="1971.5" y2="758.2" stroke="#000" stroke-width="3.3"/>
<text x="1778.9" y="786.3" font-size="33" text-anchor="middle" letter-spacing="0.6">P1</text>
<text x="1843.7" y="786.3" font-size="33" text-anchor="middle" letter-spacing="0.6">P2</text>
<text x="1908.2" y="786.3" font-size="33" text-anchor="middle" letter-spacing="0.6">P3</text>
<text x="1973" y="786.3" font-size="33" text-anchor="middle" letter-spacing="0.6">P4</text>
<text x="1814" y="281.6" font-size="34.2" font-style="italic" letter-spacing="2.2">NAC046</text>
<rect x="1753" y="282.8" width="25.5" height="30" fill="#F8766D" stroke="#000" stroke-width="3.3"/>
<circle cx="1765.8" cy="297.8" r="3.9" fill="#000"/>
<text x="1786" y="310.8" font-size="32">Col0</text>
<rect x="1753" y="317.6" width="25.5" height="30" fill="#00BFC4" stroke="#000" stroke-width="3.3"/>
<circle cx="1765.8" cy="332.6" r="3.9" fill="#000"/>
<text x="1786" y="345.7" font-size="32" font-style="italic" letter-spacing="-0.6">vel3-1</text>
<text font-size="33" text-anchor="middle" letter-spacing="-0.9" transform="translate(1699 529) rotate(-90)">H3K9Ac/input%</text>
<text x="5.5" y="1465" font-size="58" font-weight="bold">b</text>
<rect x="291.2" y="1923.3" width="42" height="13.2" fill="#F8766D"/>
<line x1="290.7" y1="1929.9" x2="333.7" y2="1929.9" stroke="#F8766D" stroke-width="7" stroke-linecap="round"/>
<rect x="542.8" y="1923.3" width="42" height="13.2" fill="#00BFC4"/>
<line x1="542.3" y1="1929.9" x2="585.3" y2="1929.9" stroke="#00BFC4" stroke-width="7" stroke-linecap="round"/>
<rect x="626.7" y="1923.3" width="42" height="13.2" fill="#619CFF"/>
<line x1="626.2" y1="1929.9" x2="669.2" y2="1929.9" stroke="#619CFF" stroke-width="7" stroke-linecap="round"/>
<line x1="396.1" y1="1753.1" x2="396.1" y2="1931.9" stroke="#B79F00" stroke-width="7.2"/>
<rect x="371.9" y="1818.3" width="48.4" height="79.5" fill="#B79F00" rx="2.5"/>
<line x1="480.1" y1="1885.2" x2="480.1" y2="1931.9" stroke="#00BA38" stroke-width="7.2"/>
<rect x="455.9" y="1884.8" width="48.4" height="48.1" fill="#00BA38" rx="2.5"/>
<line x1="732.1" y1="1503.9" x2="732.1" y2="1692.2" stroke="#F564E3" stroke-width="7.2"/>
<rect x="707.9" y="1539.3" width="48.4" height="98" fill="#F564E3" rx="2.5"/>
<circle cx="308.7" cy="1929.9" r="2.9" fill="#000"/>
<circle cx="312.2" cy="1929.9" r="2.9" fill="#000"/>
<circle cx="315.6" cy="1929.9" r="2.9" fill="#000"/>
<circle cx="399.6" cy="1754.1" r="2.9" fill="#000"/>
<circle cx="394.8" cy="1766.7" r="2.9" fill="#000"/>
<circle cx="394.8" cy="1792.7" r="2.9" fill="#000"/>
<circle cx="398.5" cy="1801.9" r="2.9" fill="#000"/>
<circle cx="393.8" cy="1814.2" r="2.9" fill="#000"/>
<circle cx="398.2" cy="1821.7" r="2.9" fill="#000"/>
<circle cx="395.5" cy="1826.1" r="2.9" fill="#000"/>
<circle cx="392.7" cy="1835" r="2.9" fill="#000"/>
<circle cx="399.2" cy="1839.1" r="2.9" fill="#000"/>
<circle cx="396.8" cy="1845.6" r="2.9" fill="#000"/>
<circle cx="399.2" cy="1860.6" r="2.9" fill="#000"/>
<circle cx="401.6" cy="1860.6" r="2.9" fill="#000"/>
<circle cx="393.8" cy="1864.3" r="2.9" fill="#000"/>
<circle cx="396.5" cy="1869.5" r="2.9" fill="#000"/>
<circle cx="400.9" cy="1870.5" r="2.9" fill="#000"/>
<circle cx="394.8" cy="1894.7" r="2.9" fill="#000"/>
<circle cx="396.8" cy="1908" r="2.9" fill="#000"/>
<circle cx="394.1" cy="1929.9" r="2.9" fill="#000"/>
<circle cx="397.2" cy="1929.9" r="2.9" fill="#000"/>
<circle cx="479.1" cy="1701.2" r="2.9" fill="#000"/>
<circle cx="481.8" cy="1794" r="2.9" fill="#000"/>
<circle cx="479.4" cy="1796.8" r="2.9" fill="#000"/>
<circle cx="481.1" cy="1804.9" r="2.9" fill="#000"/>
<circle cx="480.1" cy="1885.2" r="2.9" fill="#000"/>
<circle cx="478.8" cy="1897.1" r="2.9" fill="#000"/>
<circle cx="476.7" cy="1905.3" r="2.9" fill="#000"/>
<circle cx="484.2" cy="1907.4" r="2.9" fill="#000"/>
<circle cx="477.7" cy="1913.8" r="2.9" fill="#000"/>
<circle cx="477.1" cy="1917.3" r="2.9" fill="#000"/>
<circle cx="478.1" cy="1926.5" r="2.9" fill="#000"/>
<circle cx="480.1" cy="1929.9" r="2.9" fill="#000"/>
<circle cx="483.5" cy="1929.9" r="2.9" fill="#000"/>
<circle cx="563.8" cy="1905.7" r="2.9" fill="#000"/>
<circle cx="562.1" cy="1921.4" r="2.9" fill="#000"/>
<circle cx="564.8" cy="1921.4" r="2.9" fill="#000"/>
<circle cx="561.4" cy="1929.9" r="2.9" fill="#000"/>
<circle cx="564.8" cy="1929.9" r="2.9" fill="#000"/>
<circle cx="568.2" cy="1929.9" r="2.9" fill="#000"/>
<circle cx="645" cy="1929.9" r="2.9" fill="#000"/>
<circle cx="647.7" cy="1929.9" r="2.9" fill="#000"/>
<circle cx="650.8" cy="1929.9" r="2.9" fill="#000"/>
<circle cx="732.4" cy="1504.5" r="2.9" fill="#000"/>
<circle cx="729.3" cy="1522.3" r="2.9" fill="#000"/>
<circle cx="730.7" cy="1524" r="2.9" fill="#000"/>
<circle cx="736.2" cy="1548.9" r="2.9" fill="#000"/>
<circle cx="731.7" cy="1559.1" r="2.9" fill="#000"/>
<circle cx="732.1" cy="1570.4" r="2.9" fill="#000"/>
<circle cx="728.7" cy="1602.8" r="2.9" fill="#000"/>
<circle cx="728" cy="1605.2" r="2.9" fill="#000"/>
<circle cx="730.4" cy="1615.8" r="2.9" fill="#000"/>
<circle cx="731" cy="1690.6" r="2.9" fill="#000"/>
<circle cx="732.1" cy="1892.3" r="2.9" fill="#000"/>
<circle cx="734.5" cy="1892.3" r="2.9" fill="#000"/>
<circle cx="732.1" cy="1907" r="2.9" fill="#000"/>
<circle cx="736.5" cy="1907" r="2.9" fill="#000"/>
<line x1="262.2" y1="1463.2" x2="262.2" y2="1953.5" stroke="#000" stroke-width="3.6"/>
<line x1="260.4" y1="1951.7" x2="782.6" y2="1951.7" stroke="#000" stroke-width="3.6"/>
<line x1="255.9" y1="1929.9" x2="262.2" y2="1929.9" stroke="#000" stroke-width="3.4"/>
<text x="250.1" y="1942.2" font-size="33" text-anchor="end" letter-spacing="-0.3">0</text>
<line x1="255.9" y1="1849.1" x2="262.2" y2="1849.1" stroke="#000" stroke-width="3.4"/>
<text x="250.1" y="1861.4" font-size="33" text-anchor="end" letter-spacing="-0.3">10</text>
<line x1="255.9" y1="1768.3" x2="262.2" y2="1768.3" stroke="#000" stroke-width="3.4"/>
<text x="250.1" y="1780.6" font-size="33" text-anchor="end" letter-spacing="-0.3">20</text>
<line x1="255.9" y1="1687.6" x2="262.2" y2="1687.6" stroke="#000" stroke-width="3.4"/>
<text x="250.1" y="1699.9" font-size="33" text-anchor="end" letter-spacing="-0.3">30</text>
<line x1="255.9" y1="1606.8" x2="262.2" y2="1606.8" stroke="#000" stroke-width="3.4"/>
<text x="250.1" y="1619.1" font-size="33" text-anchor="end" letter-spacing="-0.3">40</text>
<line x1="255.9" y1="1526" x2="262.2" y2="1526" stroke="#000" stroke-width="3.4"/>
<text x="250.1" y="1538.3" font-size="33" text-anchor="end" letter-spacing="-0.3">50</text>
<line x1="312.2" y1="1951.7" x2="312.2" y2="1958" stroke="#000" stroke-width="3.4"/>
<line x1="396.1" y1="1951.7" x2="396.1" y2="1958" stroke="#000" stroke-width="3.4"/>
<line x1="480.1" y1="1951.7" x2="480.1" y2="1958" stroke="#000" stroke-width="3.4"/>
<line x1="563.8" y1="1951.7" x2="563.8" y2="1958" stroke="#000" stroke-width="3.4"/>
<line x1="647.7" y1="1951.7" x2="647.7" y2="1958" stroke="#000" stroke-width="3.4"/>
<line x1="732.1" y1="1951.7" x2="732.1" y2="1958" stroke="#000" stroke-width="3.4"/>
<text x="343.6" y="1663.6" font-size="28.7">p=0.013</text>
<line x1="301.9" y1="1675.6" x2="480.8" y2="1675.6" stroke="#000" stroke-width="4.4"/>
<text x="303.6" y="1726" font-size="28.7">p=2.5e-6</text>
<line x1="305.3" y1="1740.8" x2="394.1" y2="1740.8" stroke="#000" stroke-width="4.4"/>
<text font-size="32" text-anchor="middle" transform="translate(204.5 1728) rotate(-90)">FRET effciency (%)</text>
<text x="154" y="1986" font-size="26.3">EGFP</text>
<text x="154" y="2019.6" font-size="26.3">mCherry</text>
<text x="274.5" y="1986" font-size="26.3">WUS-</text>
<text x="274.5" y="2020" font-size="26.3">MSI1-</text>
<text x="357" y="1986" font-size="26.3">VEL3-</text>
<text x="442" y="1986" font-size="26.3">-VEL3</text>
<text x="395" y="2020" font-size="26.3">HD2C-</text>
<text x="528" y="1986" font-size="26.3">VEL3-</text>
<text x="613" y="1986" font-size="26.3">-VEL3</text>
<text x="553.6" y="2020" font-size="26.3">HDA19-</text>
<text x="695.5" y="1986" font-size="26.3">WUS-GFP</text>
<text x="695.5" y="2020" font-size="26.3">-mCherry</text>
<text x="861.5" y="874" font-size="58" font-weight="bold">d</text>
<rect x="1025.9" y="1324.2" width="46.4" height="10.1" fill="#000" rx="3"/>
<rect x="1193.8" y="1322" width="46.1" height="11.4" fill="#000" rx="3"/>
<circle cx="1049.3" cy="1322.9" r="3.2" fill="#000"/>
<circle cx="1218.4" cy="1321.1" r="3.2" fill="#000"/>
<line x1="1133.2" y1="939.2" x2="1133.2" y2="1308.2" stroke="#000" stroke-width="4.6" stroke-linecap="round"/>
<rect x="1112.1" y="1094" width="41.8" height="146" fill="#00BA38" stroke="#000" stroke-width="4.6" rx="1"/>
<line x1="1109.8" y1="1171.2" x2="1156.2" y2="1171.2" stroke="#000" stroke-width="8.5"/>
<circle cx="1134.4" cy="1141.5" r="2.9" fill="#000"/>
<circle cx="1133.5" cy="1154.4" r="2.9" fill="#000"/>
<circle cx="1132.6" cy="1187.6" r="2.9" fill="#000"/>
<circle cx="1132" cy="1227.3" r="2.9" fill="#000"/>
<circle cx="1134.4" cy="953" r="2.9" fill="#000"/>
<circle cx="1133.5" cy="940.7" r="2.9" fill="#000"/>
<circle cx="1132.9" cy="1307.6" r="2.9" fill="#000"/>
<circle cx="1134.4" cy="1278" r="2.9" fill="#000"/>
<circle cx="1049.3" cy="1236.5" r="2.9" fill="#000"/>
<circle cx="1215.9" cy="1313.7" r="2.9" fill="#000"/>
<line x1="998.9" y1="863.9" x2="998.9" y2="1353.5" stroke="#000" stroke-width="3.5"/>
<line x1="997.1" y1="1351.8" x2="1266.7" y2="1351.8" stroke="#000" stroke-width="3.5"/>
<line x1="992.8" y1="1329.7" x2="998.9" y2="1329.7" stroke="#000" stroke-width="3.4"/>
<text x="981.2" y="1342.7" font-size="33" text-anchor="end" letter-spacing="-0.5">0</text>
<line x1="992.8" y1="1241" x2="998.9" y2="1241" stroke="#000" stroke-width="3.4"/>
<text x="981.2" y="1254" font-size="33" text-anchor="end" letter-spacing="-0.5">20</text>
<line x1="992.8" y1="1152.3" x2="998.9" y2="1152.3" stroke="#000" stroke-width="3.4"/>
<text x="981.2" y="1165.3" font-size="33" text-anchor="end" letter-spacing="-0.5">40</text>
<line x1="992.8" y1="1063.7" x2="998.9" y2="1063.7" stroke="#000" stroke-width="3.4"/>
<text x="981.2" y="1076.7" font-size="33" text-anchor="end" letter-spacing="-0.5">60</text>
<line x1="992.8" y1="975" x2="998.9" y2="975" stroke="#000" stroke-width="3.4"/>
<text x="981.2" y="988" font-size="33" text-anchor="end" letter-spacing="-0.5">80</text>
<line x1="992.8" y1="886.3" x2="998.9" y2="886.3" stroke="#000" stroke-width="3.4"/>
<text x="981.2" y="899.3" font-size="33" text-anchor="end" letter-spacing="-0.5">100</text>
<line x1="1049.3" y1="1351.8" x2="1049.3" y2="1358" stroke="#000" stroke-width="3.4"/>
<line x1="1133.2" y1="1351.8" x2="1133.2" y2="1358" stroke="#000" stroke-width="3.4"/>
<line x1="1216.5" y1="1351.8" x2="1216.5" y2="1358" stroke="#000" stroke-width="3.4"/>
<text x="1043.7" y="917" font-size="28.3">p=0.001</text>
<line x1="1047.4" y1="930" x2="1135" y2="930" stroke="#000" stroke-width="4.6"/>
<text x="1044.1" y="1390.8" font-size="32" text-anchor="middle">Col0</text>
<text x="1135.8" y="1390.8" font-size="32" text-anchor="middle" font-style="italic" letter-spacing="-0.5">hd2c-1</text>
<text x="1245.6" y="1390.8" font-size="32" text-anchor="middle" font-style="italic" letter-spacing="-0.2">hda19-3</text>
<text font-size="33" text-anchor="middle" letter-spacing="-0.3" transform="translate(917 1126.7) rotate(-90)">Germination (%)</text>
<text x="1375" y="874.3" font-size="58" font-weight="bold">e</text>
<rect x="1538.8" y="1344.2" width="30" height="0.6" fill="#F8766D" stroke="#000" stroke-width="2.9"/>
<rect x="1568.8" y="1343.2" width="30" height="1.6" fill="#00BFC4" stroke="#000" stroke-width="2.9"/>
<rect x="1598.8" y="1341.9" width="30" height="2.9" fill="#00A9FF" stroke="#000" stroke-width="2.9"/>
<rect x="1657.3" y="1302.8" width="30" height="42" fill="#F8766D" stroke="#000" stroke-width="2.9"/>
<rect x="1687.3" y="1290" width="30" height="54.8" fill="#00BFC4" stroke="#000" stroke-width="2.9"/>
<rect x="1717.3" y="1210.2" width="30" height="134.6" fill="#00A9FF" stroke="#000" stroke-width="2.9"/>
<rect x="1775.5" y="1292.7" width="30" height="52.1" fill="#F8766D" stroke="#000" stroke-width="2.9"/>
<rect x="1805.5" y="1273.2" width="30" height="71.6" fill="#00BFC4" stroke="#000" stroke-width="2.9"/>
<rect x="1835.5" y="1106.5" width="30" height="238.3" fill="#00A9FF" stroke="#000" stroke-width="2.9"/>
<rect x="1893.4" y="1222.7" width="30" height="122.1" fill="#F8766D" stroke="#000" stroke-width="2.9"/>
<rect x="1923.4" y="1218" width="30" height="126.8" fill="#00BFC4" stroke="#000" stroke-width="2.9"/>
<rect x="1953.4" y="1181.6" width="30" height="163.2" fill="#00A9FF" stroke="#000" stroke-width="2.9"/>
<line x1="1672" y1="1294.6" x2="1672" y2="1308.1" stroke="#000" stroke-width="2.7"/>
<line x1="1666.5" y1="1294.6" x2="1677.5" y2="1294.6" stroke="#000" stroke-width="2.7"/>
<line x1="1666.5" y1="1308.1" x2="1677.5" y2="1308.1" stroke="#000" stroke-width="2.7"/>
<line x1="1701.6" y1="1269.4" x2="1701.6" y2="1308.1" stroke="#000" stroke-width="2.7"/>
<line x1="1696.1" y1="1269.4" x2="1707.1" y2="1269.4" stroke="#000" stroke-width="2.7"/>
<line x1="1696.1" y1="1308.1" x2="1707.1" y2="1308.1" stroke="#000" stroke-width="2.7"/>
<line x1="1732" y1="1187.9" x2="1732" y2="1230" stroke="#000" stroke-width="2.7"/>
<line x1="1726.5" y1="1187.9" x2="1737.5" y2="1187.9" stroke="#000" stroke-width="2.7"/>
<line x1="1726.5" y1="1230" x2="1737.5" y2="1230" stroke="#000" stroke-width="2.7"/>
<line x1="1790.9" y1="1284.5" x2="1790.9" y2="1298.7" stroke="#000" stroke-width="2.7"/>
<line x1="1785.4" y1="1284.5" x2="1796.4" y2="1284.5" stroke="#000" stroke-width="2.7"/>
<line x1="1785.4" y1="1298.7" x2="1796.4" y2="1298.7" stroke="#000" stroke-width="2.7"/>
<line x1="1820.5" y1="1247.5" x2="1820.5" y2="1297.3" stroke="#000" stroke-width="2.7"/>
<line x1="1815" y1="1247.5" x2="1826" y2="1247.5" stroke="#000" stroke-width="2.7"/>
<line x1="1815" y1="1297.3" x2="1826" y2="1297.3" stroke="#000" stroke-width="2.7"/>
<line x1="1849.8" y1="1095" x2="1849.8" y2="1116.2" stroke="#000" stroke-width="2.7"/>
<line x1="1844.3" y1="1095" x2="1855.3" y2="1095" stroke="#000" stroke-width="2.7"/>
<line x1="1844.3" y1="1116.2" x2="1855.3" y2="1116.2" stroke="#000" stroke-width="2.7"/>
<line x1="1909.7" y1="1190.9" x2="1909.7" y2="1252.6" stroke="#000" stroke-width="2.7"/>
<line x1="1904.2" y1="1190.9" x2="1915.2" y2="1190.9" stroke="#000" stroke-width="2.7"/>
<line x1="1904.2" y1="1252.6" x2="1915.2" y2="1252.6" stroke="#000" stroke-width="2.7"/>
<line x1="1939" y1="1162.7" x2="1939" y2="1270.4" stroke="#000" stroke-width="2.7"/>
<line x1="1933.5" y1="1162.7" x2="1944.5" y2="1162.7" stroke="#000" stroke-width="2.7"/>
<line x1="1933.5" y1="1270.4" x2="1944.5" y2="1270.4" stroke="#000" stroke-width="2.7"/>
<line x1="1968.7" y1="1121.2" x2="1968.7" y2="1240.1" stroke="#000" stroke-width="2.7"/>
<line x1="1963.2" y1="1121.2" x2="1974.2" y2="1121.2" stroke="#000" stroke-width="2.7"/>
<line x1="1963.2" y1="1240.1" x2="1974.2" y2="1240.1" stroke="#000" stroke-width="2.7"/>
<circle cx="1556.2" cy="1343.8" r="3.8" fill="#000"/>
<circle cx="1582.1" cy="1343.5" r="3.8" fill="#000"/>
<circle cx="1585.5" cy="1340.8" r="3.8" fill="#000"/>
<circle cx="1614.1" cy="1339.4" r="3.8" fill="#000"/>
<circle cx="1674.7" cy="1287.9" r="3.8" fill="#000"/>
<circle cx="1673" cy="1308.1" r="3.8" fill="#000"/>
<circle cx="1672" cy="1311.5" r="3.8" fill="#000"/>
<circle cx="1702.7" cy="1253.6" r="3.8" fill="#000"/>
<circle cx="1702.3" cy="1295.7" r="3.8" fill="#000"/>
<circle cx="1701" cy="1318.2" r="3.8" fill="#000"/>
<circle cx="1730.6" cy="1176.1" r="3.8" fill="#000"/>
<circle cx="1728.2" cy="1203.7" r="3.8" fill="#000"/>
<circle cx="1730.9" cy="1247.5" r="3.8" fill="#000"/>
<circle cx="1790.9" cy="1277.1" r="3.8" fill="#000"/>
<circle cx="1789.2" cy="1298.7" r="3.8" fill="#000"/>
<circle cx="1792.6" cy="1299.7" r="3.8" fill="#000"/>
<circle cx="1818.5" cy="1226.3" r="3.8" fill="#000"/>
<circle cx="1821.2" cy="1280.5" r="3.8" fill="#000"/>
<circle cx="1819.5" cy="1310.5" r="3.8" fill="#000"/>
<circle cx="1849.1" cy="1087.6" r="3.8" fill="#000"/>
<circle cx="1849.1" cy="1104.4" r="3.8" fill="#000"/>
<circle cx="1850.8" cy="1125.6" r="3.8" fill="#000"/>
<circle cx="1911.4" cy="1184.2" r="3.8" fill="#000"/>
<circle cx="1913.1" cy="1199.7" r="3.8" fill="#000"/>
<circle cx="1911.1" cy="1282.2" r="3.8" fill="#000"/>
<circle cx="1937.3" cy="1120.2" r="3.8" fill="#000"/>
<circle cx="1939" cy="1224.6" r="3.8" fill="#000"/>
<circle cx="1938.4" cy="1305.8" r="3.8" fill="#000"/>
<circle cx="1967" cy="1074.1" r="3.8" fill="#000"/>
<circle cx="1968" cy="1190.6" r="3.8" fill="#000"/>
<circle cx="1968" cy="1278.5" r="3.8" fill="#000"/>
<line x1="1512.8" y1="875" x2="1512.8" y2="1369.3" stroke="#000" stroke-width="3.2"/>
<line x1="1511.2" y1="1367.7" x2="2011" y2="1367.7" stroke="#000" stroke-width="3.2"/>
<line x1="1506.4" y1="1344.5" x2="1512.8" y2="1344.5" stroke="#000" stroke-width="3.3"/>
<text x="1504.1" y="1356" font-size="33" text-anchor="end" letter-spacing="-0.5">0.00</text>
<line x1="1506.4" y1="1232.7" x2="1512.8" y2="1232.7" stroke="#000" stroke-width="3.3"/>
<text x="1504.1" y="1244.2" font-size="33" text-anchor="end" letter-spacing="-0.5">0.02</text>
<line x1="1506.4" y1="1120.9" x2="1512.8" y2="1120.9" stroke="#000" stroke-width="3.3"/>
<text x="1504.1" y="1132.4" font-size="33" text-anchor="end" letter-spacing="-0.5">0.04</text>
<line x1="1506.4" y1="1009.1" x2="1512.8" y2="1009.1" stroke="#000" stroke-width="3.3"/>
<text x="1504.1" y="1020.6" font-size="33" text-anchor="end" letter-spacing="-0.5">0.06</text>
<line x1="1506.4" y1="897.3" x2="1512.8" y2="897.3" stroke="#000" stroke-width="3.3"/>
<text x="1504.1" y="908.8" font-size="33" text-anchor="end" letter-spacing="-0.5">0.08</text>
<line x1="1583.8" y1="1367.7" x2="1583.8" y2="1374.1" stroke="#000" stroke-width="3.3"/>
<line x1="1702.3" y1="1367.7" x2="1702.3" y2="1374.1" stroke="#000" stroke-width="3.3"/>
<line x1="1820.5" y1="1367.7" x2="1820.5" y2="1374.1" stroke="#000" stroke-width="3.3"/>
<line x1="1938.4" y1="1367.7" x2="1938.4" y2="1374.1" stroke="#000" stroke-width="3.3"/>
<rect x="1570.2" y="877.4" width="25.2" height="29.4" fill="#F8766D" stroke="#000" stroke-width="3.4"/>
<circle cx="1582.8" cy="892.1" r="3.9" fill="#000"/>
<text x="1603.8" y="906.3" font-size="31.6">Col0</text>
<rect x="1570.2" y="912.1" width="25.2" height="29.4" fill="#00BFC4" stroke="#000" stroke-width="3.4"/>
<circle cx="1582.8" cy="926.8" r="3.9" fill="#000"/>
<text x="1603.8" y="941" font-size="31.6" font-style="italic">hd2c-1</text>
<rect x="1570.2" y="946.8" width="25.2" height="29.4" fill="#00A9FF" stroke="#000" stroke-width="3.4"/>
<circle cx="1582.8" cy="961.5" r="3.9" fill="#000"/>
<text x="1603.8" y="975.7" font-size="31.6" font-style="italic">hda19-3</text>
<text x="1585.3" y="1401.4" font-size="31" text-anchor="middle" font-style="italic" letter-spacing="1.2">NCED2</text>
<text x="1703.8" y="1401.4" font-size="31" text-anchor="middle" font-style="italic" letter-spacing="1.2">NCED3</text>
<text x="1822" y="1401.4" font-size="31" text-anchor="middle" font-style="italic" letter-spacing="1.2">NCED6</text>
<text x="1939.9" y="1401.4" font-size="31" text-anchor="middle" font-style="italic" letter-spacing="1.2">NCED9</text>
<text font-size="32" text-anchor="middle" letter-spacing="-0.3" transform="translate(1432 1150) rotate(-90)">Normalized expression</text>
<text x="1646.8" y="1153.2" font-size="29">p=0.035</text>
<line x1="1672" y1="1161.6" x2="1734.3" y2="1161.6" stroke="#1d1d1b" stroke-width="4.6"/>
<text x="1670.5" y="1230.7" font-size="29">NS</text>
<line x1="1672" y1="1239.8" x2="1702.3" y2="1239.8" stroke="#1d1d1b" stroke-width="4.6"/>
<text x="1767.3" y="1064" font-size="29" letter-spacing="0.9">p=0.0003</text>
<line x1="1789.2" y1="1074.1" x2="1852.2" y2="1074.1" stroke="#1d1d1b" stroke-width="4.6"/>
<text x="1788.5" y="1208.8" font-size="29">NS</text>
<line x1="1790.9" y1="1217.2" x2="1820.5" y2="1217.2" stroke="#1d1d1b" stroke-width="4.6"/>
<text x="862" y="1462" font-size="58" font-weight="bold">f</text>
<rect x="1028.5" y="1904" width="41.6" height="43.8" fill="#F8766D" stroke="#000" stroke-width="3.4"/>
<rect x="1112.2" y="1738.7" width="41.6" height="209.1" fill="#00BFC4" stroke="#000" stroke-width="3.4"/>
<rect x="1196.7" y="1603" width="41.6" height="344.8" fill="#00A9FF" stroke="#000" stroke-width="3.4"/>
<line x1="1048.8" y1="1899" x2="1048.8" y2="1907.8" stroke="#000" stroke-width="3.1"/>
<line x1="1036.3" y1="1899" x2="1061.3" y2="1899" stroke="#000" stroke-width="3.1"/>
<line x1="1036.3" y1="1907.8" x2="1061.3" y2="1907.8" stroke="#000" stroke-width="3.1"/>
<line x1="1132.9" y1="1689.4" x2="1132.9" y2="1785.3" stroke="#000" stroke-width="3.1"/>
<line x1="1120.4" y1="1689.4" x2="1145.4" y2="1689.4" stroke="#000" stroke-width="3.1"/>
<line x1="1120.4" y1="1785.3" x2="1145.4" y2="1785.3" stroke="#000" stroke-width="3.1"/>
<line x1="1217" y1="1568.8" x2="1217" y2="1635.8" stroke="#000" stroke-width="3.1"/>
<line x1="1204.5" y1="1568.8" x2="1229.5" y2="1568.8" stroke="#000" stroke-width="3.1"/>
<line x1="1204.5" y1="1635.8" x2="1229.5" y2="1635.8" stroke="#000" stroke-width="3.1"/>
<circle cx="1048.1" cy="1895.4" r="3.8" fill="#000"/>
<circle cx="1048.1" cy="1905.5" r="3.8" fill="#000"/>
<circle cx="1048.1" cy="1910.1" r="3.8" fill="#000"/>
<circle cx="1132.5" cy="1582" r="3.8" fill="#000"/>
<circle cx="1133.2" cy="1717.6" r="3.8" fill="#000"/>
<circle cx="1132.5" cy="1749.5" r="3.8" fill="#000"/>
<circle cx="1131.9" cy="1756.7" r="3.8" fill="#000"/>
<circle cx="1132.5" cy="1883.2" r="3.8" fill="#000"/>
<circle cx="1216.3" cy="1539.6" r="3.8" fill="#000"/>
<circle cx="1217.3" cy="1613.2" r="3.8" fill="#000"/>
<circle cx="1215.6" cy="1654.2" r="3.8" fill="#000"/>
<line x1="998.9" y1="1476.8" x2="998.9" y2="1972.3" stroke="#000" stroke-width="3.4"/>
<line x1="997.2" y1="1970.6" x2="1266.6" y2="1970.6" stroke="#000" stroke-width="3.4"/>
<line x1="992.7" y1="1947.6" x2="998.9" y2="1947.6" stroke="#000" stroke-width="3.3"/>
<text x="989.9" y="1958.9" font-size="33" text-anchor="end" letter-spacing="-0.5">0.00</text>
<line x1="992.7" y1="1835.6" x2="998.9" y2="1835.6" stroke="#000" stroke-width="3.3"/>
<text x="989.9" y="1846.9" font-size="33" text-anchor="end" letter-spacing="-0.5">0.02</text>
<line x1="992.7" y1="1723.6" x2="998.9" y2="1723.6" stroke="#000" stroke-width="3.3"/>
<text x="989.9" y="1734.9" font-size="33" text-anchor="end" letter-spacing="-0.5">0.04</text>
<line x1="992.7" y1="1611.6" x2="998.9" y2="1611.6" stroke="#000" stroke-width="3.3"/>
<text x="989.9" y="1622.9" font-size="33" text-anchor="end" letter-spacing="-0.5">0.06</text>
<line x1="992.7" y1="1499.6" x2="998.9" y2="1499.6" stroke="#000" stroke-width="3.3"/>
<text x="989.9" y="1510.9" font-size="33" text-anchor="end" letter-spacing="-0.5">0.08</text>
<line x1="1048.8" y1="1970.6" x2="1048.8" y2="1976.8" stroke="#000" stroke-width="3.3"/>
<line x1="1132.5" y1="1970.6" x2="1132.5" y2="1976.8" stroke="#000" stroke-width="3.3"/>
<line x1="1217" y1="1970.6" x2="1217" y2="1976.8" stroke="#000" stroke-width="3.3"/>
<text x="1093" y="1499.8" font-size="34" font-style="italic">ORE1</text>
<text x="1084.2" y="1544.8" font-size="29.2">p=0.011</text>
<line x1="1049.7" y1="1556.3" x2="1216.3" y2="1556.3" stroke="#1d1d1b" stroke-width="4.6"/>
<text x="1040.5" y="1665.7" font-size="29.2">p=0.026</text>
<line x1="1049.7" y1="1677.9" x2="1132.5" y2="1677.9" stroke="#1d1d1b" stroke-width="4.6"/>
<text font-size="32" text-anchor="end" transform="translate(1070.3 2001) rotate(-30)">Col0</text>
<text font-size="32" text-anchor="end" transform="translate(1163.9 2003.7) rotate(-30)" font-style="italic" letter-spacing="-0.3">hd2c-1</text>
<text font-size="32" text-anchor="end" transform="translate(1259.3 2000.3) rotate(-30)" font-style="italic" letter-spacing="-0.3">hda19-3</text>
<text font-size="32" text-anchor="middle" letter-spacing="-0.3" transform="translate(917 1752.6) rotate(-90)">Normalized expression</text>
<rect x="1432.5" y="1884.5" width="36.6" height="63.9" fill="#F8766D" stroke="#000" stroke-width="3.4"/>
<rect x="1508.1" y="1723.4" width="36.6" height="225" fill="#00BFC4" stroke="#000" stroke-width="3.4"/>
<rect x="1583.3" y="1633.7" width="36.6" height="314.7" fill="#00A9FF" stroke="#000" stroke-width="3.4"/>
<line x1="1450.6" y1="1872.9" x2="1450.6" y2="1895.6" stroke="#000" stroke-width="3.1"/>
<line x1="1439.6" y1="1872.9" x2="1461.6" y2="1872.9" stroke="#000" stroke-width="3.1"/>
<line x1="1439.6" y1="1895.6" x2="1461.6" y2="1895.6" stroke="#000" stroke-width="3.1"/>
<line x1="1526.2" y1="1708.2" x2="1526.2" y2="1737.8" stroke="#000" stroke-width="3.1"/>
<line x1="1515.2" y1="1708.2" x2="1537.2" y2="1708.2" stroke="#000" stroke-width="3.1"/>
<line x1="1515.2" y1="1737.8" x2="1537.2" y2="1737.8" stroke="#000" stroke-width="3.1"/>
<line x1="1601.4" y1="1577.1" x2="1601.4" y2="1687.9" stroke="#000" stroke-width="3.1"/>
<line x1="1590.4" y1="1577.1" x2="1612.4" y2="1577.1" stroke="#000" stroke-width="3.1"/>
<line x1="1590.4" y1="1687.9" x2="1612.4" y2="1687.9" stroke="#000" stroke-width="3.1"/>
<circle cx="1451.6" cy="1867" r="3.8" fill="#000"/>
<circle cx="1449.3" cy="1880.1" r="3.8" fill="#000"/>
<circle cx="1450.3" cy="1904.8" r="3.8" fill="#000"/>
<circle cx="1524.9" cy="1673.1" r="3.8" fill="#000"/>
<circle cx="1526.5" cy="1708.2" r="3.8" fill="#000"/>
<circle cx="1525.9" cy="1737.8" r="3.8" fill="#000"/>
<circle cx="1525.9" cy="1755.3" r="3.8" fill="#000"/>
<circle cx="1600.5" cy="1560.7" r="3.8" fill="#000"/>
<circle cx="1601.4" cy="1595.2" r="3.8" fill="#000"/>
<circle cx="1601.1" cy="1741.4" r="3.8" fill="#000"/>
<line x1="1405.7" y1="1476.8" x2="1405.7" y2="1972.3" stroke="#000" stroke-width="3.4"/>
<line x1="1404" y1="1970.6" x2="1630" y2="1970.6" stroke="#000" stroke-width="3.4"/>
<line x1="1399.5" y1="1948.2" x2="1405.7" y2="1948.2" stroke="#000" stroke-width="3.3"/>
<text x="1392.6" y="1959.5" font-size="33" text-anchor="end" letter-spacing="-1.6">0e+00</text>
<line x1="1399.5" y1="1798.4" x2="1405.7" y2="1798.4" stroke="#000" stroke-width="3.3"/>
<text x="1392.6" y="1809.7" font-size="33" text-anchor="end" letter-spacing="-1.6">2e−04</text>
<line x1="1399.5" y1="1648.6" x2="1405.7" y2="1648.6" stroke="#000" stroke-width="3.3"/>
<text x="1392.6" y="1659.9" font-size="33" text-anchor="end" letter-spacing="-1.6">4e−04</text>
<line x1="1399.5" y1="1498.8" x2="1405.7" y2="1498.8" stroke="#000" stroke-width="3.3"/>
<text x="1392.6" y="1510.1" font-size="33" text-anchor="end" letter-spacing="-1.6">6e−04</text>
<line x1="1450.3" y1="1970.6" x2="1450.3" y2="1976.8" stroke="#000" stroke-width="3.3"/>
<line x1="1525.9" y1="1970.6" x2="1525.9" y2="1976.8" stroke="#000" stroke-width="3.3"/>
<line x1="1601.1" y1="1970.6" x2="1601.1" y2="1976.8" stroke="#000" stroke-width="3.3"/>
<text x="1470.6" y="1499.9" font-size="34" font-style="italic">WRKY75</text>
<text x="1480.5" y="1554.8" font-size="29.2">p=0.0038</text>
<line x1="1445.3" y1="1567.9" x2="1613" y2="1567.9" stroke="#1d1d1b" stroke-width="4.6"/>
<text x="1432.2" y="1647.8" font-size="29.2">p=0.009</text>
<line x1="1443.4" y1="1661.6" x2="1526.5" y2="1661.6" stroke="#1d1d1b" stroke-width="4.6"/>
<text font-size="32" text-anchor="end" transform="translate(1464.2 2002.5) rotate(-30)">Col0</text>
<text font-size="32" text-anchor="end" transform="translate(1559 2002.2) rotate(-30)" font-style="italic" letter-spacing="-0.3">hd2c-1</text>
<text font-size="32" text-anchor="end" transform="translate(1654 2003.6) rotate(-30)" font-style="italic" letter-spacing="-0.3">hda19-3</text>
<rect x="1788.5" y="1831.5" width="37.1" height="116.8" fill="#F8766D" stroke="#000" stroke-width="3.4"/>
<rect x="1866.8" y="1813.4" width="37.1" height="134.9" fill="#00BFC4" stroke="#000" stroke-width="3.4"/>
<rect x="1945" y="1652.7" width="37.1" height="295.6" fill="#00A9FF" stroke="#000" stroke-width="3.4"/>
<line x1="1806.6" y1="1801.2" x2="1806.6" y2="1860.3" stroke="#000" stroke-width="3.1"/>
<line x1="1794.9" y1="1801.2" x2="1818.4" y2="1801.2" stroke="#000" stroke-width="3.1"/>
<line x1="1794.9" y1="1860.3" x2="1818.4" y2="1860.3" stroke="#000" stroke-width="3.1"/>
<line x1="1885.1" y1="1784.8" x2="1885.1" y2="1840.6" stroke="#000" stroke-width="3.1"/>
<line x1="1873.4" y1="1784.8" x2="1896.9" y2="1784.8" stroke="#000" stroke-width="3.1"/>
<line x1="1873.4" y1="1840.6" x2="1896.9" y2="1840.6" stroke="#000" stroke-width="3.1"/>
<line x1="1963.4" y1="1627.7" x2="1963.4" y2="1675.3" stroke="#000" stroke-width="3.1"/>
<line x1="1951.6" y1="1627.7" x2="1975.1" y2="1627.7" stroke="#000" stroke-width="3.1"/>
<line x1="1951.6" y1="1675.3" x2="1975.1" y2="1675.3" stroke="#000" stroke-width="3.1"/>
<circle cx="1805.6" cy="1782.5" r="3.8" fill="#000"/>
<circle cx="1805.9" cy="1824.9" r="3.8" fill="#000"/>
<circle cx="1806.9" cy="1885" r="3.8" fill="#000"/>
<circle cx="1884.8" cy="1719" r="3.8" fill="#000"/>
<circle cx="1886.5" cy="1797.9" r="3.8" fill="#000"/>
<circle cx="1885.8" cy="1811" r="3.8" fill="#000"/>
<circle cx="1885.1" cy="1854.4" r="3.8" fill="#000"/>
<circle cx="1886.1" cy="1881.7" r="3.8" fill="#000"/>
<circle cx="1963.7" cy="1610.6" r="3.8" fill="#000"/>
<circle cx="1962.7" cy="1649.4" r="3.8" fill="#000"/>
<circle cx="1964.3" cy="1693.7" r="3.8" fill="#000"/>
<line x1="1759.7" y1="1476.8" x2="1759.7" y2="1972.3" stroke="#000" stroke-width="3.4"/>
<line x1="1758" y1="1970.6" x2="2011" y2="1970.6" stroke="#000" stroke-width="3.4"/>
<line x1="1753.5" y1="1948.1" x2="1759.7" y2="1948.1" stroke="#000" stroke-width="3.3"/>
<text x="1750.3" y="1959.4" font-size="33" text-anchor="end" letter-spacing="-0.8">0.000</text>
<line x1="1753.5" y1="1835.8" x2="1759.7" y2="1835.8" stroke="#000" stroke-width="3.3"/>
<text x="1750.3" y="1847.1" font-size="33" text-anchor="end" letter-spacing="-0.8">0.005</text>
<line x1="1753.5" y1="1723.5" x2="1759.7" y2="1723.5" stroke="#000" stroke-width="3.3"/>
<text x="1750.3" y="1734.8" font-size="33" text-anchor="end" letter-spacing="-0.8">0.010</text>
<line x1="1753.5" y1="1611.2" x2="1759.7" y2="1611.2" stroke="#000" stroke-width="3.3"/>
<text x="1750.3" y="1622.5" font-size="33" text-anchor="end" letter-spacing="-0.8">0.015</text>
<line x1="1753.5" y1="1498.9" x2="1759.7" y2="1498.9" stroke="#000" stroke-width="3.3"/>
<text x="1750.3" y="1510.2" font-size="33" text-anchor="end" letter-spacing="-0.8">0.020</text>
<line x1="1806.6" y1="1970.6" x2="1806.6" y2="1976.8" stroke="#000" stroke-width="3.3"/>
<line x1="1884.8" y1="1970.6" x2="1884.8" y2="1976.8" stroke="#000" stroke-width="3.3"/>
<line x1="1963" y1="1970.6" x2="1963" y2="1976.8" stroke="#000" stroke-width="3.3"/>
<text x="1838.5" y="1497.2" font-size="34" font-style="italic" letter-spacing="0.6">NAC046</text>
<text x="1831.6" y="1580" font-size="29.2">p=0.011</text>
<line x1="1796.1" y1="1591.9" x2="1963.7" y2="1591.9" stroke="#1d1d1b" stroke-width="4.6"/>
<text font-size="32" text-anchor="end" transform="translate(1824.8 2001) rotate(-30)">Col0</text>
<text font-size="32" text-anchor="end" transform="translate(1918.5 2003.7) rotate(-30)" font-style="italic" letter-spacing="-0.3">hd2c-1</text>
<text font-size="32" text-anchor="end" transform="translate(2013.6 2001) rotate(-30)" font-style="italic" letter-spacing="-0.3">hda19-3</text>
</svg>
</body></html>
